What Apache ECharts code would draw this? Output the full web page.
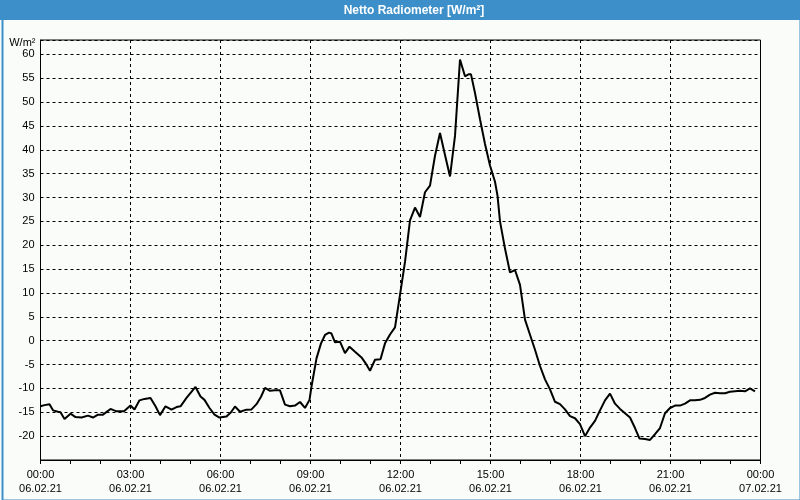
<!DOCTYPE html>
<html>
<head>
<meta charset="utf-8">
<script src="https://cdn.jsdelivr.net/npm/echarts@6/dist/echarts.min.js"></script>
<style>html,body{margin:0;padding:0;background:#fafcfa;}#chart{width:800px;height:500px;}</style>
</head>
<body>
<div id="chart"></div>
<script>
// Time in minutes after 00:00 on 06.02.21
const minutes = [0,8,18,25,35,40,48,60,70,82,95,105,115,125,140,152,167,180,188,198,208,220,230,239,250,262,272,280,292,310,320,328,338,348,358,
372,381,389,399,412,422,432,441,449,459,469,479,489,499,509,519,529,538,542,552,561,569,577,582,589,599,609,618,629,642,650,659,669,680,689,699,709,
719,729,739,749,759,769,779,789,799,809,819,829,839,849,856,861,869,879,889,899,909,914,919,929,939,949,959,969,979,989,999,1009,1019,1029,1039,1049,1059,1069,1079,1089,
1099,1109,1119,1129,1139,1149,1159,1169,1179,1189,1198,1209,1219,1229,1239,1249,1259,1269,1279,1289,1299,1309,1319,1329,1339,1349,1359,1369,1379,1389,1399,1409,1419,1429];
// Netto radiation in W/m²
const values = [-13.75,-13.5,-13.3,-14.6,-14.9,-15.0,-16.4,-15.3,-16.0,-16.1,-15.7,-16.1,-15.5,-15.5,-14.3,-14.8,-14.8,-13.6,-14.4,-12.5,-12.2,-12.0,-13.75,-15.6,-13.75,-14.45,-13.9,-13.75,-12.0,-9.7,-11.7,-12.4,-14.1,-15.5,-16.1,
-15.9,-15.0,-13.8,-14.9,-14.45,-14.4,-13.3,-11.75,-9.9,-10.5,-10.4,-10.4,-13.4,-13.75,-13.6,-12.85,-14.1,-12.4,-9.6,-3.7,-0.56,1.2,1.7,1.5,-0.35,-0.2,-2.6,-1.25,-2.3,-3.5,-4.7,-6.3,-4.0,-3.9,-0.56,1.3,2.8,
9.6,16.5,25.2,27.9,25.9,31.1,32.5,38.75,43.5,38.9,34.4,42.9,58.9,55.4,55.8,55.8,51.9,46.4,41.2,36.7,33.3,30.4,25.0,19.3,14.3,14.8,11.7,4.4,1.25,-1.9,-5.3,-8.1,-10.2,-12.8,-13.3,-14.4,-15.8,-16.25,-17.5,-20.0,
-18.2,-16.8,-14.6,-12.5,-11.1,-13.2,-14.3,-15.2,-16.1,-18.3,-20.5,-20.6,-20.8,-19.6,-18.3,-15.2,-14.1,-13.6,-13.6,-13.2,-12.5,-12.5,-12.4,-12.0,-11.3,-10.9,-11.0,-11.0,-10.7,-10.6,-10.5,-10.6,-10.0,-10.6];
const xTickTimes = ['00:00','03:00','06:00','09:00','12:00','15:00','18:00','21:00','00:00'];
const xTickDates = ['06.02.21','06.02.21','06.02.21','06.02.21','06.02.21','06.02.21','06.02.21','06.02.21','07.02.21'];
const titleText = 'Netto Radiometer [W/m²]';
const unitText = 'W/m²';

const chart = echarts.init(document.getElementById('chart'), null, {renderer: 'canvas'});
const lineData = minutes.map((m, i) => [m, values[i]]);
const FONT = '"Liberation Sans", Arial, sans-serif';

chart.setOption({
  backgroundColor: '#fafcfa',
  animation: false,
  graphic: [
    {type: 'rect', left: 0, top: 0, shape: {x: 0, y: 0, width: 800, height: 20}, style: {fill: '#3c8fc8'}, silent: true},
    {type: 'rect', left: 0, top: 0, shape: {x: 0.5, y: 0.5, width: 798, height: 498}, style: {fill: 'none', stroke: '#3c8fc8', lineWidth: 2}, silent: true},
    {type: 'text', style: {x: 414, y: 11, text: titleText, align: 'center', verticalAlign: 'middle', fill: '#ffffff', font: 'bold 12px ' + FONT}, silent: true}
  ],
  grid: {left: 40.5, width: 720, top: 40, height: 420, show: true, borderColor: '#000', borderWidth: 1, backgroundColor: 'transparent'},
  xAxis: {
    type: 'value', min: 0, max: 1440, interval: 180,
    axisLine: {show: true, onZero: false, lineStyle: {color: '#000', width: 1}},
    axisTick: {show: true, length: 4, lineStyle: {color: '#000'}},
    minorTick: {show: true, splitNumber: 3, length: 4, lineStyle: {color: '#000'}},
    splitLine: {show: true, lineStyle: {color: '#000', type: [3, 3], width: 1}},
    axisLabel: {
      margin: 8, color: '#000', fontSize: 11, fontFamily: FONT, lineHeight: 14,
      formatter: v => { const i = Math.round(v / 180); return xTickTimes[i] + '\n' + xTickDates[i]; }
    }
  },
  yAxis: {
    type: 'value', min: -25, max: 63, interval: 5,
    name: unitText, nameLocation: 'end', nameGap: -9,
    nameTextStyle: {color: '#000', fontSize: 11, fontFamily: FONT, align: 'right', verticalAlign: 'middle', padding: [0, 5, 0, 0]},
    axisLine: {show: true, onZero: false, lineStyle: {color: '#000', width: 1}},
    axisTick: {show: false},
    splitLine: {show: true, lineStyle: {color: '#000', type: [3, 3], width: 1}},
    axisLabel: {margin: 6, color: '#000', fontSize: 11, fontFamily: FONT, showMinLabel: false, showMaxLabel: false}
  },
  series: [{
    type: 'line', data: lineData, showSymbol: false, symbol: 'none',
    lineStyle: {color: '#000', width: 2}, z: 5
  }]
});
</script>
</body>
</html>
